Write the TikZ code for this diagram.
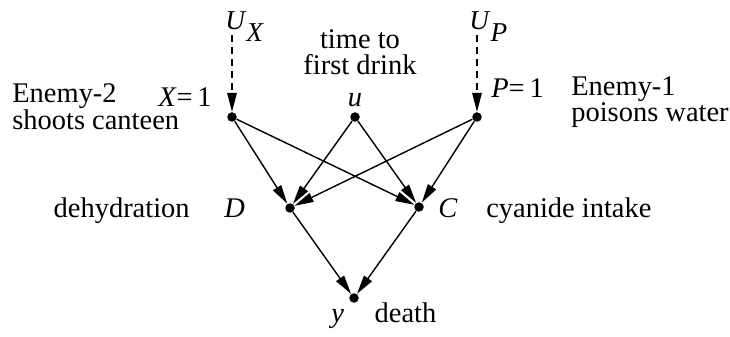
\documentclass[tikz,border=0pt]{standalone}
\usepackage{fontspec}
\setmainfont{Liberation Serif}
\usetikzlibrary{arrows.meta, positioning}
\newcommand\lblsize{\fontsize{16.2}{13.7}\selectfont}
\newcommand\usize{\fontsize{15.5}{15.5}\selectfont}
\newcommand\vr[1]{\textit{#1}}

\begin{document}
\begin{tikzpicture}[
    x=0.02cm, y=-0.02cm,
    dot/.style={circle, fill=black, inner sep=0pt, minimum size=0.19cm},
    lbl/.style={inner sep=0pt, font=\lblsize, align=left},
    arr/.style={-{Triangle[length=0.38cm, width=0.19cm]}, line width=0.8pt},
    darr/.style={arr, dash pattern=on 0.14cm off 0.1cm}
]
\useasboundingbox (0,0) rectangle (730,337);

% Variables
\node[dot] (x) at (232,117) {};
\node[dot] (u) at (355,117) {};
\node[dot] (p) at (477,117) {};
\node[dot] (d) at (290,208) {};
\node[dot] (c) at (419,207) {};
\node[dot] (y) at (354,298) {};

% Background variables
\coordinate (ux) at (232,35);
\coordinate (up) at (477,35);
\node[lbl, font=\usize, anchor=base west] (uxlbl) at (225,30) {\vr{U}\raisebox{-0.24cm}{\vr{X}}};
\node[lbl, font=\usize, anchor=base west] (uplbl) at (469,30) {\vr{U}\raisebox{-0.24cm}{\vr{P}}};

% Labels
\node[lbl, anchor=base east] (xval) at (212,107) {\vr{X}=\,1};
\node[lbl, anchor=base west] (enemy2) at (12,130) {Enemy-2\\shoots canteen};
\node[lbl, anchor=base, align=center] (time) at (360,75) {time to\\[1.1pt]first drink};
\node[lbl, anchor=base] (ulbl) at (355,107) {\vr{u}};
\node[lbl, anchor=base west] (pval) at (491,98) {\vr{P}=\,1};
\node[lbl, anchor=base west] (enemy1) at (571,122) {Enemy-1\\poisons water};
\node[lbl, anchor=base west] (dlbl) at (224,218) {\vr{D}};
\node[lbl, left=0.68cm of dlbl.base west, anchor=base east] (dehyd) {dehydration};
\node[lbl, anchor=base west] (clbl) at (438,218) {\vr{C}};
\node[lbl, right=0.56cm of clbl.base east, anchor=base west] (cyan) {cyanide intake};
\node[lbl, anchor=base west] (ylbl) at (331,323) {\vr{y}};
\node[lbl, right=0.6cm of ylbl.base east, anchor=base west] (death) {death};

% Arrows
\draw[darr] (ux) -- (x);
\draw[darr] (up) -- (p);

\draw[arr] (x) -- (d);
\draw[arr] (x) -- (c);
\draw[arr] (u) -- (d);
\draw[arr] (u) -- (c);
\draw[arr] (p) -- (d);
\draw[arr] (p) -- (c);

\draw[arr] (d) -- (y);
\draw[arr] (c) -- (y);

\end{tikzpicture}
\end{document}
